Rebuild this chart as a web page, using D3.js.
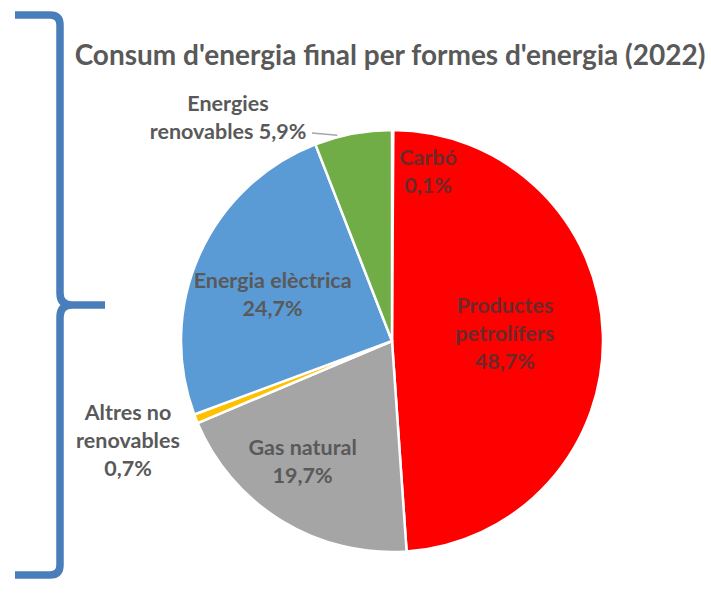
<!DOCTYPE html>
<html>
<head>
<meta charset="utf-8">
<script src="https://cdn.jsdelivr.net/npm/d3@7"></script>
<style>
  html, body { margin: 0; padding: 0; background: #fff; }
  svg { display: block; }
</style>
</head>
<body>
<svg id="chart" width="711" height="600"></svg>
<script>
// Final energy consumption shares, clockwise from 12 o'clock
const categories = ["Carbó", "Productes petrolífers", "Gas natural", "Altres no renovables", "Energia elèctrica", "Energies renovables"];
const values = [0.1, 48.7, 19.7, 0.7, 24.7, 5.9];
const labelLines = [
  ["Carbó", "0,1%"],
  ["Productes", "petrolífers", "48,7%"],
  ["Gas natural", "19,7%"],
  ["Altres no", "renovables", "0,7%"],
  ["Energia elèctrica", "24,7%"],
  ["Energies", "renovables 5,9%"]
];
const title = "Consum d'energia final per formes d'energia (2022)";

const colors = ["#f00000", "#ff0000", "#a5a5a5", "#ffc000", "#5b9bd5", "#70ad47"];

const svg = d3.select("#chart");
const cx = 392, cy = 341, R = 211;

// Decorative brace on the left side
svg.append("path")
  .attr("d", "M15,15 L50,15 Q60,15 60,25 L60,293 Q60,305 72,305 L105,305 M72,305 Q60,305 60,317 L60,565 Q60,575 50,575 L15,575")
  .attr("fill", "none")
  .attr("stroke", "#4a7ebb")
  .attr("stroke-width", 7.5)
  .attr("stroke-linecap", "butt");

// Title
svg.append("text")
  .attr("x", 390).attr("y", 65)
  .attr("text-anchor", "middle")
  .attr("font-family", "Lato, 'Noto Sans', sans-serif")
  .attr("font-weight", "bold")
  .attr("font-size", 28)
  .attr("fill", "#595959")
  .text(title);

const pie = d3.pie().sort(null).value(d => d);
const arcs = pie(values);
const arc = d3.arc().innerRadius(0).outerRadius(R);

const g = svg.append("g").attr("transform", `translate(${cx},${cy})`);

g.selectAll("path.slice")
  .data(arcs)
  .join("path")
  .attr("class", "slice")
  .attr("d", arc)
  .attr("fill", (d, i) => colors[i])
  .attr("stroke", "#fff")
  .attr("stroke-width", 2.5)
  .attr("stroke-linejoin", "round");

// Label placement: radius from the centre and angle tweak (degrees) per slice
const placement = [
  { abs: [428, 157] },
  { r: 113, da: -2 },
  { r: 150, da: 5 },
  { abs: [128, 412] },
  { r: 128, da: -3 },
  { abs: [228, 103] }
];

const lineH = 28;
arcs.forEach((d, i) => {
  const p = placement[i];
  let x, y;
  const lines = labelLines[i];
  if (p.abs) {
    x = p.abs[0]; y = p.abs[1];
  } else {
    const a = (d.startAngle + d.endAngle) / 2 + p.da * Math.PI / 180;
    x = cx + p.r * Math.sin(a);
    y = cy - p.r * Math.cos(a) - (lines.length - 1) * lineH / 2;
  }
  const t = svg.append("text")
    .attr("text-anchor", "middle")
    .attr("font-family", "Lato, 'Noto Sans', sans-serif")
    .attr("font-weight", "bold")
    .attr("font-size", 21.5)
    .attr("fill", i <= 1 ? "#6b2a2a" : "#595959");
  lines.forEach((ln, k) => {
    t.append("tspan")
      .attr("x", x)
      .attr("y", y + k * lineH)
      .attr("dy", "0.35em")
      .text(ln);
  });
});

// Leader line for the renewables label
const ren = arcs[5];
const ra = ren.startAngle + (ren.endAngle - ren.startAngle) * 0.3;
svg.append("polyline")
  .attr("points", `312,133 ${cx + (R + 2) * Math.sin(ra)},${cy - (R + 2) * Math.cos(ra)}`)
  .attr("fill", "none")
  .attr("stroke", "#a6a6a6")
  .attr("stroke-width", 1.5);
</script>
</body>
</html>
